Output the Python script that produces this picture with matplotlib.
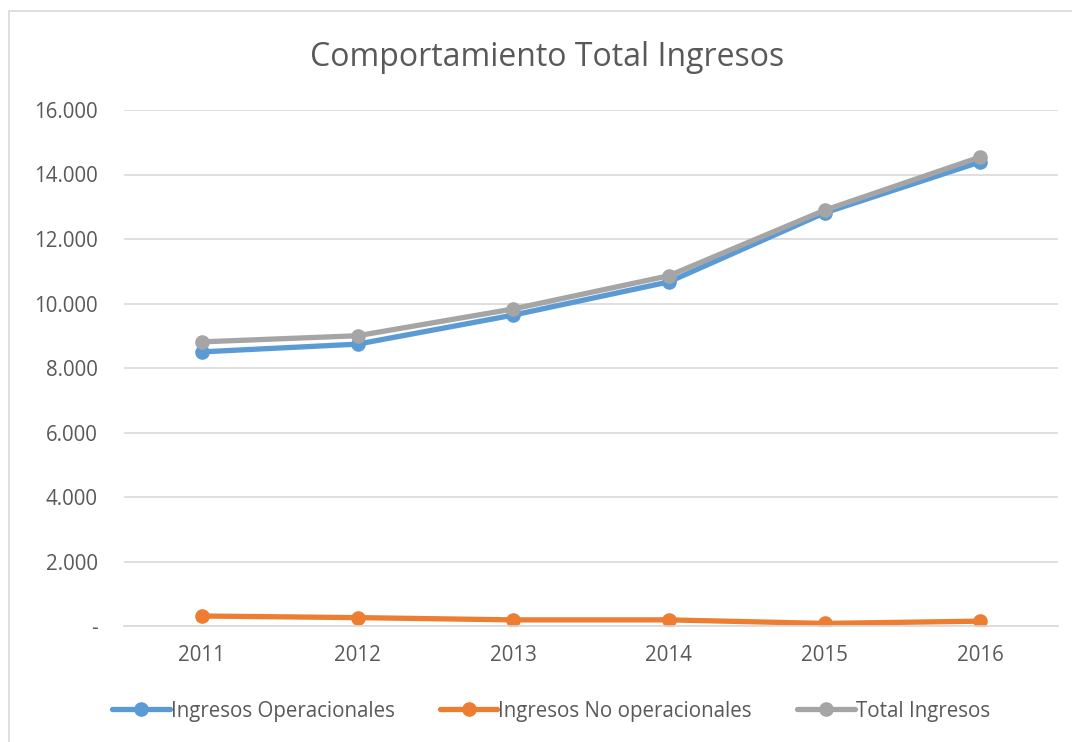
import matplotlib
matplotlib.use("Agg")
import matplotlib.pyplot as plt
from matplotlib.patches import Rectangle
from matplotlib.ticker import FuncFormatter

plt.rcParams['font.family'] = ['Open Sans', 'DejaVu Sans']

# data (millions)
years = ['2011', '2012', '2013', '2014', '2015', '2016']
operacionales = [8500, 8740, 9640, 10670, 12810, 14390]
no_operacionales = [310, 260, 190, 190, 80, 150]
total = [8810, 9000, 9830, 10860, 12890, 14540]

series = [
    ('Ingresos Operacionales', operacionales, '#5B9BD5'),
    ('Ingresos No operacionales', no_operacionales, '#ED7D31'),
    ('Total Ingresos', total, '#A5A5A5'),
]

fig = plt.figure(figsize=(10.72, 7.42), dpi=100)
ax = fig.add_axes([124 / 1072, 1 - 626 / 742, (1058 - 124) / 1072, (626 - 110) / 742])

# chart border
fig.patches.append(Rectangle((9 / 1072, -0.01), 1.05, 1 - 11 / 742 + 0.01,
                             transform=fig.transFigure, fill=False,
                             edgecolor='#D9D9D9', linewidth=1.2))

x = range(len(years))
for name, vals, col in series:
    ax.plot(x, vals, color=col, linewidth=3.8, marker='o', markersize=9.5,
            label=name, solid_capstyle='round')

ax.set_xlim(-0.5, len(years) - 0.5)
ax.set_ylim(0, 16000)
ax.set_yticks(range(0, 16001, 2000))
ax.yaxis.set_major_formatter(FuncFormatter(
    lambda v, p: '-' if v == 0 else f'{int(v):,}'.replace(',', '.')))
ax.set_xticks(list(x))
ax.set_xticklabels(years)

ax.grid(axis='y', color='#D9D9D9', linewidth=1.2)
ax.set_axisbelow(True)
for s in ['top', 'right', 'left']:
    ax.spines[s].set_visible(False)
ax.spines['bottom'].set_color('#D9D9D9')
ax.spines['bottom'].set_linewidth(1.2)
ax.tick_params(axis='both', length=0, labelsize=14.8, colors='#595959')
ax.tick_params(axis='y', pad=19)
ax.tick_params(axis='x', pad=14)

fig.text(547 / 1072, 1 - 57 / 742, 'Comportamiento Total Ingresos',
         ha='center', va='center', fontsize=23, color='#595959')

leg = fig.legend(loc='center', bbox_to_anchor=(551 / 1072, 1 - 711 / 742),
                 ncol=3, frameon=False, fontsize=14.8, handlelength=2.8,
                 handletextpad=0.05, columnspacing=2.2)
for t in leg.get_texts():
    t.set_color('#595959')

fig.savefig('out.png', dpi=100)
